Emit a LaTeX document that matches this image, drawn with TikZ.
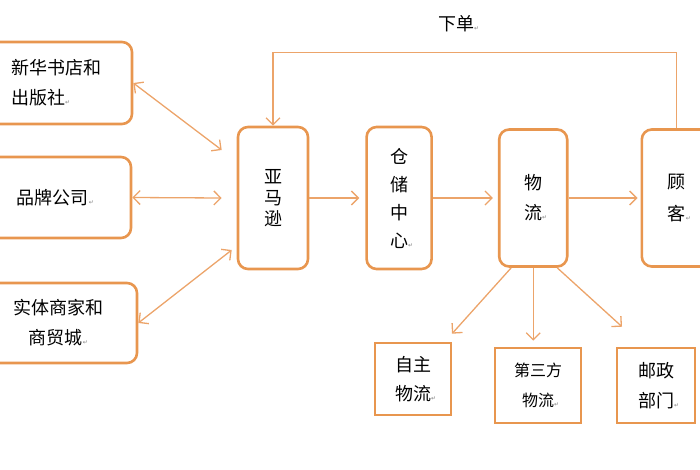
\documentclass[tikz,border=0pt]{standalone}
\usepackage{fontspec}
\setmainfont{Noto Sans CJK SC}
\newfontfamily\symfont{DejaVu Sans}
\usetikzlibrary{positioning, arrows.meta}
\definecolor{boxorange}{HTML}{E8964F}
\definecolor{linkorange}{HTML}{ECA46A}
\newcommand{\crmark}{{\symfont\fontsize{6}{6}\selectfont\textcolor{gray}{↵}}}

\begin{document}
\begin{tikzpicture}[x=1pt, y=-1pt,
  rbox/.style={draw=boxorange, line width=2.6pt, rounded corners=10pt, align=center, inner sep=0pt, font=\fontsize{18}{30}\selectfont},
  sbox/.style={draw=boxorange, line width=2.6pt, align=center, inner sep=0pt, font=\fontsize{18}{29}\selectfont},
  arrow/.style={draw=linkorange, line width=1.3pt, -{Straight Barb[length=7pt,width=14pt]}},
  both/.style={arrow, {Straight Barb[length=7pt,width=14pt]}-{Straight Barb[length=7pt,width=14pt]}}
]
  \useasboundingbox (0,0) rectangle (700,470);

  % suppliers
  \node[rbox, align=left, minimum width=152pt, minimum height=82pt] (pub) at (56,83) {新华书店和\\出版社\crmark};
  \node[rbox, minimum width=151pt, minimum height=81pt] (brand) at (55.5,197.5) {品牌公司\crmark};
  \node[rbox, minimum width=157pt, minimum height=80pt] (mall) at (58.5,323) {实体商家和\\商贸城\crmark};

  % main chain
  \node[rbox, minimum width=70pt, minimum height=142pt, font=\fontsize{18}{21}\selectfont] (amazon) at (273,198) {亚\\马\\逊};
  \node[rbox, minimum width=65pt, minimum height=142pt, font=\fontsize{18}{28}\selectfont, right=56pt of amazon] (store) {仓\\储\\中\\心\rlap{\crmark}};
  \node[rbox, minimum width=68pt, minimum height=137pt, right=65pt of store] (logistics) {物\\流\rlap{\crmark}};
  \node[rbox, minimum width=70pt, minimum height=137pt, font=\fontsize{18}{32}\selectfont, right=72pt of logistics] (customer) {顾\\客\rlap{\crmark}};

  % delivery
  \node[sbox, minimum width=76pt, minimum height=72pt] (self) at (413,379) {自主\\物流\rlap{\crmark}};
  \node[sbox, minimum width=86pt, minimum height=75pt, font=\fontsize{16}{30}\selectfont] (third) at (538,385.5) {第三方\\物流\rlap{\crmark}};
  \node[sbox, minimum width=78pt, minimum height=75pt, font=\fontsize{18}{30}\selectfont] (post) at (656,385.5) {邮政\\部门\rlap{\crmark}};

  \draw[both] (pub.east) -- ([xshift=-15pt,yshift=48pt]amazon.west);
  \draw[both] (brand.east) -- ([xshift=-15pt]amazon.west);
  \draw[both] (mall.east) -- ([xshift=-5pt,yshift=-52pt]amazon.west);

  \draw[arrow, shorten >=6pt] (amazon) -- (store);
  \draw[arrow, shorten >=5pt] (store) -- (logistics);
  \draw[arrow, shorten >=3pt] (logistics) -- (customer);
  \draw[arrow] (customer.north) -- ++(0,-76) -| node[pos=0.27, above=16pt, font=\fontsize{18}{20}\selectfont] {下单\crmark} (amazon.north);

  \draw[arrow] ([xshift=-22pt]logistics.south) -- ([xshift=39pt,yshift=8pt]self.north);
  \draw[arrow, shorten >=6pt] (logistics.south) -- (logistics.south |- third.north);
  \draw[arrow] ([xshift=24pt]logistics.south) -- ([xshift=-34pt,yshift=20pt]post.north);
\end{tikzpicture}
\end{document}
